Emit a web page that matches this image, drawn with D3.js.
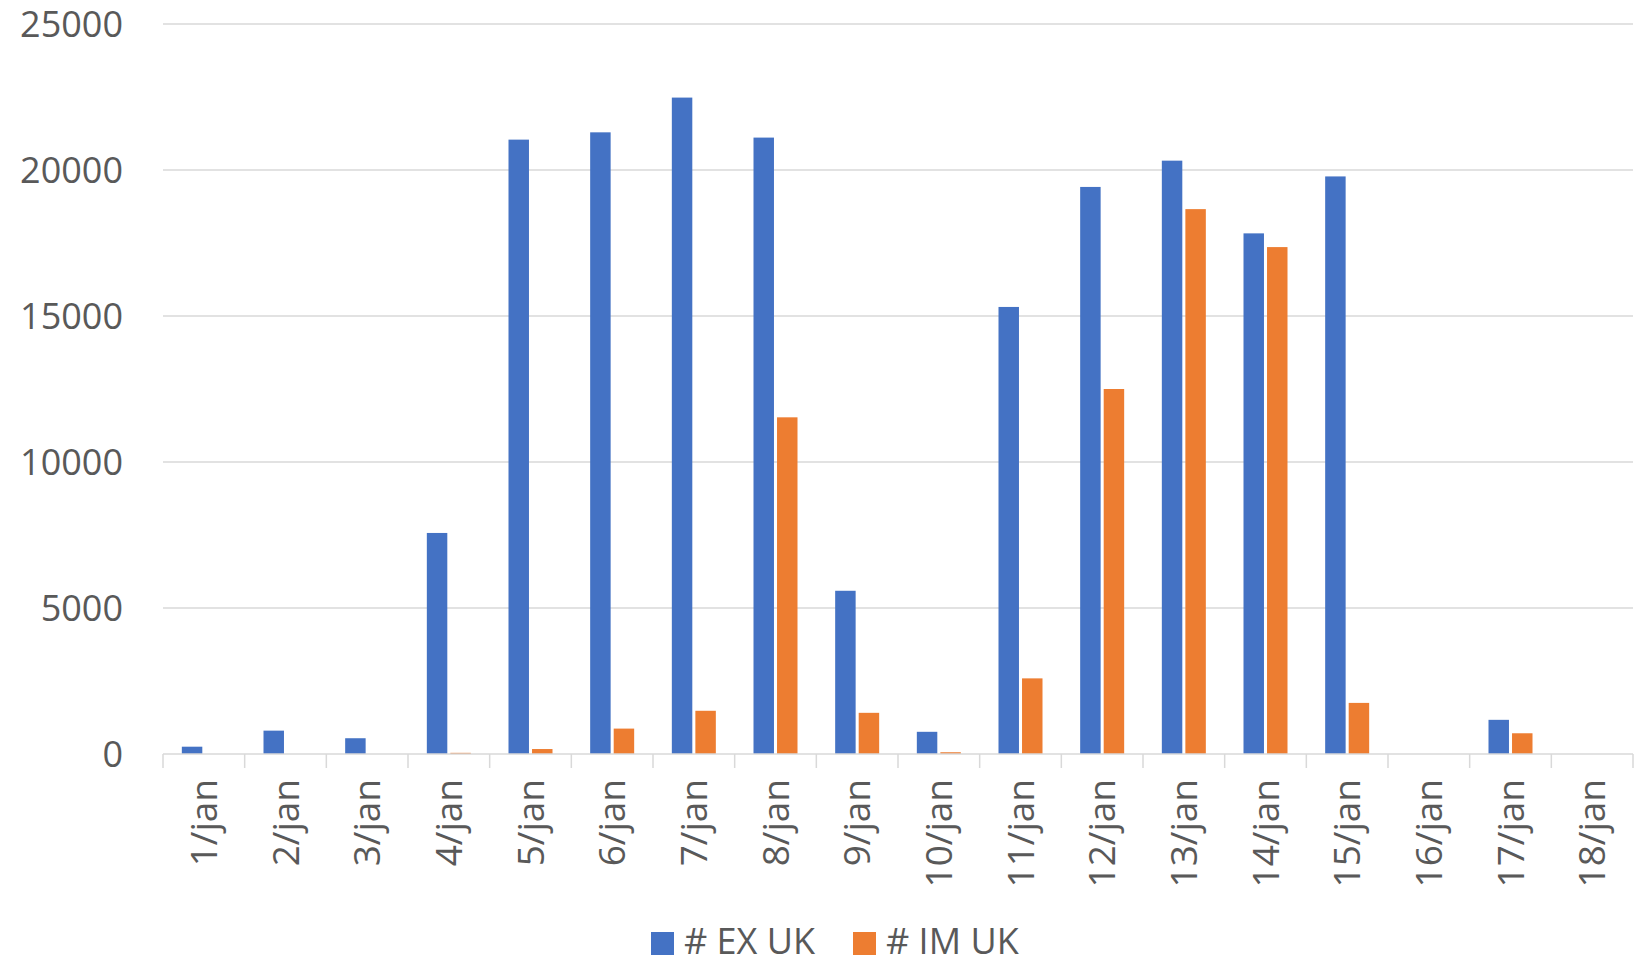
<!DOCTYPE html>
<html>
<head>
<meta charset="utf-8">
<script src="https://cdn.jsdelivr.net/npm/d3@7"></script>
<style>
  html, body { margin: 0; padding: 0; background: #fff; }
  svg { display: block; font-family: "Open Sans", "DejaVu Sans", sans-serif; }
</style>
</head>
<body>
<svg id="chart"></svg>
<script>
// data
const days = ["1/jan", "2/jan", "3/jan", "4/jan", "5/jan", "6/jan", "7/jan", "8/jan", "9/jan",
  "10/jan", "11/jan", "12/jan", "13/jan", "14/jan", "15/jan", "16/jan", "17/jan", "18/jan"]
const seriesNames = ["# EX UK", "# IM UK"]
const exUK = [250, 800, 540, 7570, 21040, 21290, 22480, 21110, 5590, 760, 15310, 19420, 20320, 17830, 19780, 0, 1170, 0]
const imUK = [0, 0, 0, 40, 170, 870, 1480, 11530, 1410, 60, 2590, 12500, 18660, 17360, 1750, 0, 710, 0]
const yTicks = [0, 5000, 10000, 15000, 20000, 25000]
const colors = ["#4472C4", "#ED7D31"]

const width = 1650
const height = 964
const margin = {left: 163, right: 17, top: 24, bottom: 210}
const textColor = "#595959"
const gridColor = "#d9d9d9"

const svg = d3.select("#chart").attr("width", width).attr("height", height)

const x0 = d3.scaleBand().domain(days).range([margin.left, width - margin.right]).padding(0)
const half = x0.bandwidth() / 2
const x1 = d3.scaleBand().domain(seriesNames).range([half - 22, half + 22]).paddingInner(0.13)
const y = d3.scaleLinear().domain([0, 25000]).range([height - margin.bottom, margin.top])

const table = days.map((d, i) => ({day: d, values: [
  {name: seriesNames[0], value: exUK[i]},
  {name: seriesNames[1], value: imUK[i]}
]}))

// gridlines
svg.append("g")
  .selectAll("line")
  .data(yTicks.filter(t => t > 0))
  .join("line")
  .attr("x1", margin.left)
  .attr("x2", width - margin.right)
  .attr("y1", d => y(d))
  .attr("y2", d => y(d))
  .attr("stroke", gridColor)
  .attr("stroke-width", 1.5)

// y labels
svg.append("g")
  .selectAll("text")
  .data(yTicks)
  .join("text")
  .attr("x", 123)
  .attr("y", d => y(d))
  .attr("dy", "0.36em")
  .attr("text-anchor", "end")
  .attr("fill", textColor)
  .style("font-size", "36px")
  .text(d => d)

// bars
const groups = svg.append("g")
  .selectAll("g")
  .data(table)
  .join("g")
  .attr("transform", d => `translate(${x0(d.day)},0)`)

groups.selectAll("rect")
  .data(d => d.values.filter(v => v.value > 0))
  .join("rect")
  .attr("x", d => x1(d.name))
  .attr("width", x1.bandwidth())
  .attr("y", d => y(d.value))
  .attr("height", d => y(0) - y(d.value))
  .attr("fill", d => colors[seriesNames.indexOf(d.name)])

// x axis line and ticks at band edges
const xAxis = svg.append("g")
xAxis.append("line")
  .attr("x1", margin.left)
  .attr("x2", width - margin.right)
  .attr("y1", y(0))
  .attr("y2", y(0))
  .attr("stroke", gridColor)
  .attr("stroke-width", 1.5)

xAxis.selectAll(".tick")
  .data(days.map(d => x0(d)).concat([width - margin.right]))
  .join("line")
  .attr("class", "tick")
  .attr("x1", d => d)
  .attr("x2", d => d)
  .attr("y1", y(0))
  .attr("y2", y(0) + 14)
  .attr("stroke", gridColor)
  .attr("stroke-width", 1.5)

xAxis.selectAll("text")
  .data(days)
  .join("text")
  .attr("transform", d => `translate(${x0(d) + half},${y(0) + 25}) rotate(-90)`)
  .attr("dy", "0.36em")
  .attr("text-anchor", "end")
  .attr("fill", textColor)
  .style("font-size", "37px")
  .text(d => d)

// legend
const legendX = [651, 853]
const legend = svg.append("g")
  .selectAll("g")
  .data(seriesNames)
  .join("g")
  .attr("transform", (d, i) => `translate(${legendX[i]},932)`)

legend.append("rect")
  .attr("width", 23)
  .attr("height", 23)
  .attr("fill", (d, i) => colors[i])

legend.append("text")
  .attr("x", 33)
  .attr("y", 22)
  .attr("fill", textColor)
  .style("font-size", "36px")
  .text(d => d)
</script>
</body>
</html>
